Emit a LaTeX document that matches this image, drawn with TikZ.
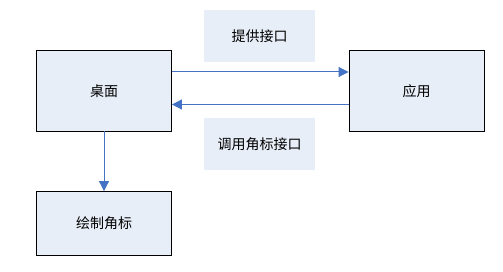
\documentclass[tikz,border=0pt]{standalone}
\usepackage{fontspec}
\usepackage{tikz}
\usetikzlibrary{positioning,arrows.meta,calc}
\setmainfont{Noto Sans CJK SC}
\definecolor{boxfill}{HTML}{E8EEF8}
\definecolor{linkblue}{HTML}{4472C4}

\begin{document}
\begin{tikzpicture}[x=1pt,y=-1pt,font=\fontsize{14}{16}\selectfont,
  blk/.style={draw=black,line width=0.9pt,fill=boxfill,minimum width=135pt,inner sep=0pt},
  lbl/.style={fill=boxfill,minimum width=111pt,minimum height=52pt,inner sep=0pt},
  lnk/.style={-{Triangle[length=10pt,width=10pt]},draw=linkblue,fill=linkblue,line width=1pt}]
\useasboundingbox (0,0) rectangle (503,272);

\node[blk,minimum height=80.5pt] (desk) at (104,90.75) {桌面};
\node[blk,minimum height=80.5pt] (app)  at (416.5,90.75) {应用};
\node[blk,minimum height=63.5pt] (badge) at (104,223.25) {绘制角标};
\node[lbl] (offer) at (259.5,36) {提供接口};
\node[lbl] (call)  at (259.5,144) {调用角标接口};

\draw[lnk] ([yshift=18.75pt]desk.east) -- ([yshift=18.75pt]app.west);
\draw[lnk] ([yshift=-13.75pt]app.west) -- ([yshift=-13.75pt]desk.east);
\draw[lnk] (desk.south) -- (badge.north);
\end{tikzpicture}
\end{document}
